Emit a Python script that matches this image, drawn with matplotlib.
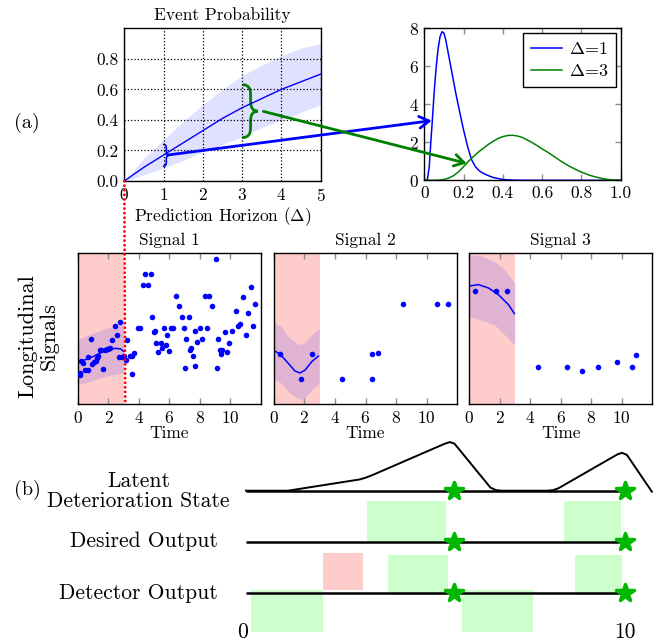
import numpy as np
import matplotlib
matplotlib.use('Agg')
import matplotlib.pyplot as plt
from matplotlib.patches import ConnectionPatch, PathPatch
from matplotlib.path import Path
from matplotlib.markers import MarkerStyle

plt.rcParams['font.family'] = 'serif'
plt.rcParams['font.serif'] = ['cmr10']
plt.rcParams['mathtext.fontset'] = 'cm'
plt.rcParams['axes.formatter.use_mathtext'] = True
plt.rcParams['font.size'] = 12.5

# ---- (a) event probability vs horizon ----
horizon = [0, 0.5, 1, 1.5, 2, 2.5, 3, 3.5, 4, 4.5, 5]
prob_mean = [0, 0.09, 0.17, 0.25, 0.33, 0.41, 0.48, 0.54, 0.60, 0.65, 0.70]
prob_upper = [0, 0.15, 0.27, 0.39, 0.50, 0.60, 0.69, 0.76, 0.82, 0.87, 0.90]
prob_lower = [0, 0.04, 0.085, 0.135, 0.19, 0.24, 0.29, 0.35, 0.40, 0.45, 0.50]

# braces: (x, low, high, tip x)
brace_blue = (1.00, 0.097, 0.24, 1.14)
brace_green = (3.03, 0.285, 0.63, 3.40)

# ---- densities of the event probability ----
dens_x1 = [0, 0.015, 0.025, 0.03, 0.035, 0.04, 0.05, 0.06, 0.07, 0.08, 0.09, 0.10,
           0.11, 0.12, 0.13, 0.14, 0.15, 0.16, 0.17, 0.18, 0.20, 0.22, 0.24, 0.26,
           0.28, 0.30, 0.32, 0.35, 0.40, 0.45, 0.5, 1.0]
dens_y1 = [0, 0, 0.7, 1.5, 2.3, 3.0, 4.6, 5.9, 6.9, 7.55, 7.82, 7.75,
           7.35, 6.8, 6.25, 5.7, 5.15, 4.6, 4.1, 3.6, 2.65, 1.8, 1.1, 0.72,
           0.5, 0.37, 0.27, 0.15, 0.04, 0.01, 0, 0]
dens_x3 = [0, 0.05, 0.08, 0.1, 0.125, 0.15, 0.175, 0.2, 0.225, 0.25, 0.275, 0.3,
           0.325, 0.35, 0.375, 0.4, 0.425, 0.45, 0.475, 0.5, 0.525, 0.55, 0.575,
           0.6, 0.625, 0.65, 0.675, 0.7, 0.725, 0.75, 0.775, 0.8, 0.825, 0.85,
           0.875, 0.9, 0.925, 0.95, 0.975, 1.0]
dens_y3 = [0, 0, 0.01, 0.04, 0.12, 0.25, 0.45, 0.72, 1.0, 1.25, 1.48, 1.68,
           1.88, 2.05, 2.2, 2.3, 2.36, 2.37, 2.33, 2.25, 2.12, 1.98, 1.82,
           1.65, 1.5, 1.33, 1.15, 0.98, 0.82, 0.68, 0.55, 0.43, 0.33, 0.24,
           0.17, 0.11, 0.06, 0.03, 0.01, 0]

# ---- longitudinal signals ----
s1_t = [0.11, 0.11, 0.20, 0.31, 0.46, 0.68, 0.64, 0.86, 0.94, 1.07, 1.16, 1.23, 1.34,
        1.43, 1.52, 1.67, 1.78, 1.89, 2.0, 2.07, 2.22, 2.40, 2.55, 2.66, 2.77, 2.88,
        3.03, 3.16, 3.21, 3.38, 3.54, 3.54, 3.65, 3.91, 4.04, 4.26, 4.57, 4.42, 4.79,
        4.88, 4.97, 5.08, 5.14, 5.23, 5.45, 5.52, 5.67, 5.74, 5.85, 5.96, 6.11, 6.24,
        6.40, 6.62, 6.79, 6.95, 6.99, 7.10, 7.27, 7.34, 7.43, 7.52, 7.65, 7.69, 7.78,
        7.98, 8.15, 8.31, 8.44, 8.62, 8.77, 9.03, 9.10, 9.21, 9.30, 9.36, 9.47, 9.63,
        9.76, 9.87, 10.07, 10.35, 10.51, 10.62, 10.84, 11.0, 11.12, 11.34, 11.47, 11.63]
s1_y = [2.09, 1.96, 2.87, 2.71, 2.27, 2.27, 3.15, 4.30, 2.67, 2.82, 2.87, 3.05, 3.20,
        3.60, 3.60, 2.32, 3.60, 3.64, 3.64, 3.71, 4.26, 5.19, 4.59, 3.15, 5.47, 3.15,
        3.16, 2.94, 4.26, 3.16, 3.16, 2.0, 3.42, 5.03, 5.03, 7.90, 7.90, 8.63, 8.63,
        5.74, 4.77, 4.86, 4.04, 3.44, 4.04, 3.71, 5.03, 3.89, 4.59, 3.55, 5.03, 5.03,
        7.17, 6.47, 5.74, 5.03, 2.43, 4.30, 5.74, 3.60, 3.71, 3.16, 4.86, 2.56, 4.15,
        5.03, 4.30, 7.17, 5.03, 7.17, 6.47, 9.62, 2.43, 4.30, 3.60, 3.31, 3.60, 4.75,
        3.44, 4.04, 4.86, 6.18, 5.19, 5.30, 7.06, 4.59, 6.03, 7.77, 5.16, 6.62]
s1_fit_t = [0, 0.5, 1.0, 1.5, 2.0, 2.45, 2.8, 3.0]
s1_fit = [2.8, 2.95, 3.16, 3.42, 3.6, 3.7, 3.66, 3.49]
s1_band_t = [0, 0.75, 1.5, 2.25, 3.0]
s1_up = [4.3, 4.6, 4.9, 5.15, 5.3]
s1_lo = [1.3, 1.5, 1.75, 1.95, 2.05]

s2_t = [0.41, 1.76, 2.48, 4.49, 6.41, 6.43, 6.80, 8.47, 10.65, 11.37]
s2_y = [3.32, 1.65, 3.32, 1.65, 1.65, 3.32, 3.36, 6.66, 6.66, 6.66]
s2_fit_t = [0.04, 0.41, 0.96, 1.39, 1.72, 2.05, 2.48, 2.92]
s2_fit = [3.54, 3.32, 2.70, 2.20, 2.07, 2.26, 2.81, 3.19]
s2_band_t = [0.04, 0.52, 0.96, 1.61, 1.94, 2.48, 2.96]
s2_up = [5.41, 5.12, 4.46, 3.96, 4.02, 4.57, 5.05]
s2_lo = [1.65, 1.38, 0.84, 0.35, 0.35, 0.95, 1.36]

s3_t = [0.41, 1.75, 2.51, 4.50, 6.44, 7.42, 8.47, 9.72, 10.70, 10.94]
s3_y = [7.49, 7.49, 7.49, 2.48, 2.48, 2.20, 2.48, 2.77, 2.48, 3.25]
s3_fit_t = [0.04, 0.61, 1.27, 1.92, 2.58, 2.97]
s3_fit = [7.82, 7.91, 7.69, 7.25, 6.59, 6.0]
s3_band_t = [0.04, 0.83, 1.7, 2.36, 3.01]
s3_up = [9.89, 9.8, 9.41, 8.86, 7.98]
s3_lo = [5.78, 5.56, 5.23, 4.57, 3.91]

signals = [('Signal 1', s1_t, s1_y, s1_fit_t, s1_fit, s1_band_t, s1_up, s1_lo),
           ('Signal 2', s2_t, s2_y, s2_fit_t, s2_fit, s2_band_t, s2_up, s2_lo),
           ('Signal 3', s3_t, s3_y, s3_fit_t, s3_fit, s3_band_t, s3_up, s3_lo)]
obs_end = 3.0
now_t = 3.1

# ---- (b) timeline ----
latent_t = [0, 1.11, 3.0, 3.18, 3.35, 5.25, 5.38, 5.5, 6.45, 6.6, 6.75, 7.95, 8.1, 8.25,
            9.8, 9.92, 10.05, 10.71]
latent_h = [0, 0, 0.22, 0.26, 0.31, 0.92, 0.95, 0.92, 0.06, 0.01, 0, 0, 0.01, 0.05,
            0.71, 0.74, 0.70, -0.02]
desired_start = [3.18, 8.39]
desired_end = [5.28, 9.89]
false_start = [2.03]
false_end = [3.09]
hit_start = [3.75, 8.68]
hit_end = [5.34, 9.91]
quiet_start = [0.13, 5.70]
quiet_end = [2.03, 7.57]
event_times = [5.5, 10]
row_names = ['Detector Output', 'Desired Output', 'Latent\nDeterioration State']

green_light = '#CCFFCC'
red_light = '#FFCCCC'
dark_green = '#008000'
star_green = '#00B800'

W, H = 672, 643
fig = plt.figure(figsize=(W / 100, H / 100), dpi=100)


def box(l, t, r, b):
    return [l / W, 1 - b / H, (r - l) / W, (b - t) / H]


def tick_style(ax):
    ax.tick_params(direction='in', top=True, right=True, color='0.55',
                   length=4, width=1, pad=4)
    for s in ax.spines.values():
        s.set_linewidth(1.0)


def brace(ax, x, lo, hi, tip, color, lw):
    mid = (lo + hi) / 2
    xv = (x + tip) / 2
    r = 0.18 * (hi - lo)
    verts = [(x, lo), (xv, lo), (xv, lo + r),
             (xv, mid - r), (xv, mid), (tip, mid),
             (xv, mid), (xv, mid + r),
             (xv, hi - r), (xv, hi), (x, hi)]
    codes = [Path.MOVETO, Path.CURVE3, Path.CURVE3,
             Path.LINETO, Path.CURVE3, Path.CURVE3,
             Path.CURVE3, Path.CURVE3,
             Path.LINETO, Path.CURVE3, Path.CURVE3]
    ax.add_patch(PathPatch(Path(verts, codes), fill=False, edgecolor=color,
                           lw=lw, clip_on=False, capstyle='round'))


# event probability
ax1 = fig.add_axes(box(124.3, 28.3, 320.7, 181))
ax1.fill_between(horizon, prob_lower, prob_upper, color='blue', alpha=0.12, lw=0)
ax1.plot(horizon, prob_mean, color='blue', lw=1.0)
ax1.set_xlim(0, 5)
ax1.set_ylim(0, 1)
ax1.set_xticks(range(6))
ax1.set_yticks([0, 0.2, 0.4, 0.6, 0.8])
ax1.set_yticklabels(['0.0', '0.2', '0.4', '0.6', '0.8'])
ax1.grid(True, ls=':', color='black', lw=0.9)
tick_style(ax1)
ax1.tick_params(length=0)
ax1.set_title('Event Probability', fontsize=12.5, pad=6)
ax1.set_xlabel(r'Prediction Horizon ($\Delta$)', labelpad=1)
brace(ax1, *brace_blue, color='blue', lw=1.2)
brace(ax1, *brace_green, color=dark_green, lw=2.0)

# densities
ax2 = fig.add_axes(box(424.3, 28.3, 620.7, 180.3))
ax2.plot(dens_x1, dens_y1, color='blue', lw=1.1, label=r'$\Delta$=1')
ax2.plot(dens_x3, dens_y3, color=dark_green, lw=1.1, label=r'$\Delta$=3')
ax2.set_xlim(0, 1)
ax2.set_ylim(0, 8)
ax2.set_xticks([0, 0.2, 0.4, 0.6, 0.8, 1.0])
ax2.set_xticklabels(['0', '0.2', '0.4', '0.6', '0.8', '1.0'])
ax2.set_yticks([0, 2, 4, 6, 8])
tick_style(ax2)
leg = ax2.legend(loc='upper right', fancybox=False, edgecolor='black',
                 framealpha=1, handlelength=1.7, handletextpad=0.4,
                 borderaxespad=0.25, labelspacing=0.35, borderpad=0.45,
                 fontsize=13)
leg.get_frame().set_linewidth(1.0)

# arrows from braces to densities
for (xa, ya), (xb, yb), c in [((1.10, 0.17), (0.038, 3.14), 'blue'),
                              ((3.54, 0.456), (0.216, 0.89), dark_green)]:
    con = ConnectionPatch(xyA=(xa, ya), coordsA=ax1.transData,
                          xyB=(xb, yb), coordsB=ax2.transData,
                          arrowstyle='->,head_length=0.5,head_width=0.3',
                          mutation_scale=14, color=c, lw=2.0)
    fig.add_artist(con)

# signals
sig_boxes = [(78, 253, 261, 404.3), (273.7, 253, 457.3, 404.3), (469, 253, 652.3, 404.3)]
sig_axes = []
for (name, t, y, ft, fy, bt, up, lo), b in zip(signals, sig_boxes):
    ax = fig.add_axes(box(*b))
    ax.axvspan(0, obs_end, color=red_light, lw=0)
    ax.fill_between(bt, lo, up, color='blue', alpha=0.12, lw=0)
    ax.plot(ft, fy, color='blue', lw=1.1)
    ax.scatter(t, y, s=16, color='blue', zorder=3, lw=0)
    ax.set_xlim(0, 12)
    ax.set_ylim(0, 10)
    ax.set_xticks([0, 2, 4, 6, 8, 10])
    ax.set_yticks([])
    tick_style(ax)
    ax.set_title(name, fontsize=12.5, pad=6)
    ax.set_xlabel('Time', labelpad=0)
    sig_axes.append(ax)

# "now" marker joining both rows
now_line = ConnectionPatch(xyA=(0, 0), coordsA=ax1.transData,
                           xyB=(now_t, 0), coordsB=sig_axes[0].transData,
                           color='red', ls=(0, (0.05, 1.6)), lw=2.0,
                           capstyle='round')
fig.add_artist(now_line)

fig.text(38 / W, 1 - 336 / H, 'Longitudinal\nSignals', rotation=90,
         ha='center', va='center', fontsize=16, linespacing=1.1)
fig.text(27 / W, 1 - 123 / H, '(a)', ha='center', va='center', fontsize=14.5)
fig.text(27 / W, 1 - 490 / H, '(b)', ha='center', va='center', fontsize=14.5)

# (b) timeline
ax4 = fig.add_axes(box(246, 442.1, 625, 641.6))
ax4.set_xlim(0, 10)
ax4.set_ylim(-0.95, 2.95)
ax4.axis('off')
for s, e in zip(desired_start, desired_end):
    ax4.bar(s, 0.8, width=e - s, bottom=1, align='edge', color=green_light, lw=0)
for s, e in zip(false_start, false_end):
    ax4.bar(s, 0.74, width=e - s, bottom=0.05, align='edge', color=red_light, lw=0)
for s, e in zip(hit_start, hit_end):
    ax4.bar(s, 0.78, width=e - s, bottom=-0.03, align='edge', color=green_light, lw=0)
for s, e in zip(quiet_start, quiet_end):
    ax4.bar(s, -0.82, width=e - s, bottom=0.05, align='edge', color=green_light, lw=0)
star = MarkerStyle('*', joinstyle='round')
for row in range(3):
    ax4.plot([0, 10], [row, row], color='black', lw=1.8, solid_capstyle='butt')
    ax4.plot(event_times, [row] * len(event_times), ls='none', marker=star,
             ms=13, color=star_green, mec=star_green, mew=2.5, zorder=5, clip_on=False)
ax4.plot(latent_t, [2 + h for h in latent_h], color='black', lw=1.4, clip_on=False)
ax4.text(-0.08, -0.76, '0', ha='center', va='center', fontsize=15.5)
ax4.text(10, -0.76, '10', ha='center', va='center', fontsize=15.5)

fig.text(138.5 / W, 1 - 491 / H, row_names[2], ha='center', va='center',
         fontsize=15.5, multialignment='center', linespacing=1.05)
fig.text(218 / W, 1 - 541.7 / H, row_names[1], ha='right', va='center', fontsize=15.5)
fig.text(218 / W, 1 - 593.3 / H, row_names[0], ha='right', va='center', fontsize=15.5)

fig.savefig('out.png', dpi=100)
